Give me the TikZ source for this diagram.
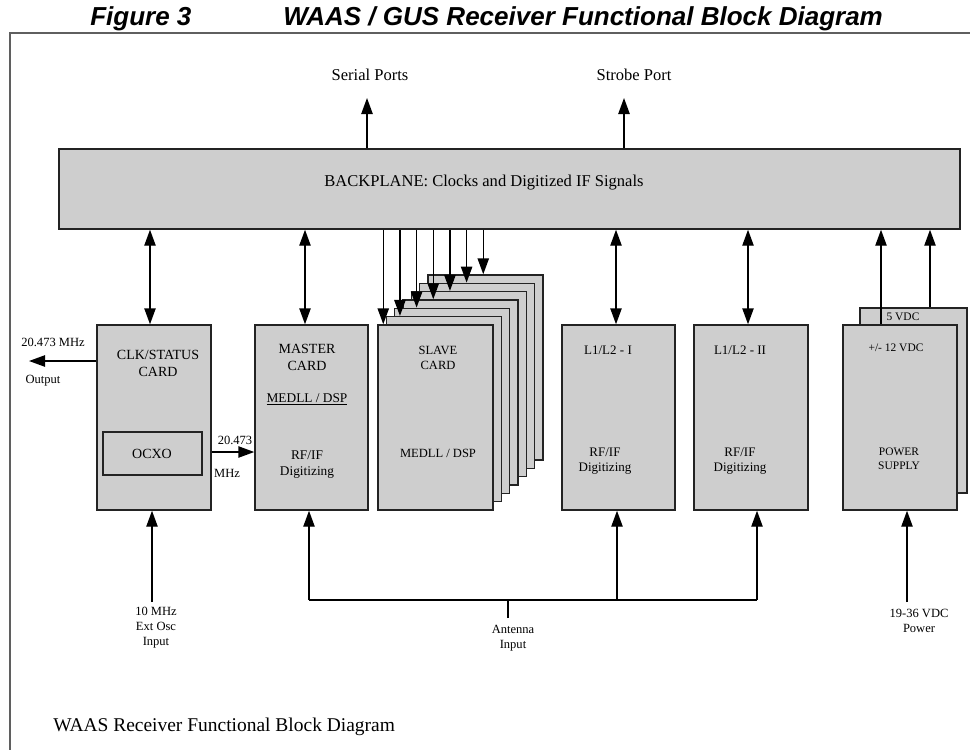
\documentclass[tikz,border=0pt]{standalone}
\usepackage{fontspec}
\setmainfont{Liberation Serif}
\newfontfamily\titlefont{Liberation Sans}
\usetikzlibrary{arrows.meta,fit,calc}
\definecolor{cardfill}{RGB}{206,206,206}
\definecolor{framegray}{RGB}{95,95,95}
\definecolor{edgec}{RGB}{35,35,35}
\begin{document}
\begin{tikzpicture}[x=0.75pt,y=-0.75pt,
  card/.style={draw=edgec,fill=cardfill,line width=1.1pt,inner sep=0pt},
  txt/.style={inner sep=0pt,align=center},
  fbig/.style={font=\fontsize{10.5}{12.75}\selectfont},
  fmid/.style={font=\fontsize{10}{12}\selectfont},
  fl12/.style={font=\fontsize{9.75}{11.25}\selectfont},
  fslave/.style={font=\fontsize{9.4}{10.9}\selectfont},
  fpwr/.style={font=\fontsize{8.6}{10.5}\selectfont},
  fsmall/.style={font=\fontsize{9.4}{11.25}\selectfont},
  fport/.style={font=\fontsize{12.4}{15}\selectfont},
  head/.style={font=\titlefont\bfseries\itshape\fontsize{19.5}{23}\selectfont,inner sep=0pt,anchor=base west},
  conn/.style={draw=black,line width=1.1pt},
  arr/.style={conn,-{Triangle[length=12pt,width=8.5pt]}},
  dbl/.style={conn,{Triangle[length=12pt,width=8.5pt]}-{Triangle[length=12pt,width=8.5pt]}}
]
\useasboundingbox (0,0) rectangle (970,750);

% title
\node[head] (fig) at (90,25) {Figure 3};
\node[head] (ttl) at (283,25) {WAAS / GUS Receiver Functional Block Diagram};

% frame
\draw[framegray,line width=1.5pt] (970,33) -- (10,33) -- (10,750);

% backplane
\node[card,fit={(59,149) (960,229)}] (bp) {};
\node[txt,fport] (bpt) at (484,183) {BACKPLANE: Clocks and Digitized IF Signals};

% ports
\node[txt,fport] (sp) at (370,75) {Serial Ports};
\node[txt,fport] (stp) at (634,75) {Strobe Port};
\coordinate (sptip) at (367,98);
\coordinate (stptip) at (624,98);
\draw[arr] (bp.north -| sptip) -- (sptip);
\draw[arr] (bp.north -| stptip) -- (stptip);

% CLK/STATUS card
\node[card,fit={(97,325) (211,510)}] (clk) {};
\node[txt,fbig] (clkt) at (158,363) {CLK/STATUS\\CARD};
\node[card,fit={(103,432) (202,475)}] (ocxo) {};
\node[txt,fbig] (ocxot) at (152,453.5) {OCXO};

% MASTER card
\node[card,fit={(255,325) (368,510)}] (master) {};
\node[txt,fbig] (mt1) at (307,357) {MASTER\\CARD};
\node[txt,fmid] (mt2) at (307,399) {\underline{MEDLL / DSP}};
\node[txt,fmid] (mt3) at (307,465) {RF/IF\\Digitizing};

% SLAVE stack
\foreach \k in {6,5,...,0}{
  \node[card,fit={({378+8.333*\k},{325-8.333*\k}) ({493+8.333*\k},{510-8.333*\k})}] (s\k) {};
}
\node[txt,fslave] (st1) at (438,358) {SLAVE\\CARD};
\node[txt,fslave] (st2) at (438,453.5) {MEDLL / DSP};

% L1/L2 cards
\node[card,fit={(562,325) (675,510)}] (la) {};
\node[txt,fl12] (lat1) at (608,350) {L1/L2 - I};
\node[txt,fl12] (lat2) at (605,461) {RF/IF\\Digitizing};
\node[card,fit={(694,325) (808,510)}] (lb) {};
\node[txt,fl12] (lbt1) at (740,350) {L1/L2 - II};
\node[txt,fl12] (lbt2) at (740,461) {RF/IF\\Digitizing};

% power supply
\node[card,fit={(860,308) (967,493)}] (ps5) {};
\node[card,fit={(843,325) (957,510)}] (ps) {};
\node[txt,fpwr] (ps5t) at (903,317) {5 VDC};
\node[txt,fpwr] (pst1) at (896,348) {+/- 12 VDC};
\node[txt,fpwr] (pst2) at (899,459) {POWER\\SUPPLY};

% backplane <-> cards
\coordinate (xclk) at (150,0);
\coordinate (xmas) at (305,0);
\coordinate (xla) at (616,0);
\coordinate (xlb) at (748,0);
\draw[dbl] (bp.south -| xclk) -- (clk.north -| xclk);
\draw[dbl] (bp.south -| xmas) -- (master.north -| xmas);
\draw[dbl] (bp.south -| xla) -- (la.north -| xla);
\draw[dbl] (bp.south -| xlb) -- (lb.north -| xlb);

% slave arrows
\foreach \k in {0,...,6}{
  \coordinate (stt\k) at ($(s\k.north west)+({6+8.333*\k},0)$);
  \draw[arr] (bp.south -| stt\k) -- (stt\k);
}

% power arrows
\coordinate (xp1) at (881,0);
\coordinate (xp2) at (930,0);
\draw[arr] (ps.north -| xp1) -- (bp.south -| xp1);
\draw[arr] (ps5.north -| xp2) -- (bp.south -| xp2);

% output
\coordinate (outtip) at (29,361);
\draw[arr] (clk.west |- outtip) -- (outtip);
\node[txt,fsmall] (outl1) at (53,342) {20.473 MHz};
\node[txt,fsmall] (outl2) at (43,381) {Output};

% 20.473 MHz to master
\coordinate (ymhz) at (0,452);
\draw[arr] (clk.east |- ymhz) -- (master.west |- ymhz);
\node[txt,fsmall] (ml1) at (235,440) {20.473};
\node[txt,fsmall] (ml2) at (227,473) {MHz};

% ext osc input
\coordinate (oscin) at (152,602);
\draw[arr] (oscin) -- (oscin |- clk.south);
\node[txt,fsmall] (oscl) at (156,628) {10 MHz\\Ext Osc\\Input};

% antenna
\coordinate (antin) at (508,618);
\coordinate (antj) at (508,600);
\coordinate (a1) at (309,600);
\coordinate (a2) at (617,600);
\coordinate (a3) at (757,600);
\draw[conn] (a1) -- (a3);
\draw[conn] (antin) -- (antj);
\draw[arr] (a1) -- (a1 |- master.south);
\draw[arr] (a2) -- (a2 |- la.south);
\draw[arr] (a3) -- (a3 |- lb.south);
\node[txt,fsmall] (antl) at (513,638) {Antenna\\Input};

% power input
\coordinate (pwrin) at (907,602);
\draw[arr] (pwrin) -- (pwrin |- ps.south);
\node[txt,fsmall] (pwrl) at (919,621) {19-36 VDC\\Power};

% caption
\node[txt,anchor=west,font=\fontsize{14.6}{17}\selectfont] (cap) at (53,727) {WAAS Receiver Functional Block Diagram};
\end{tikzpicture}
\end{document}
